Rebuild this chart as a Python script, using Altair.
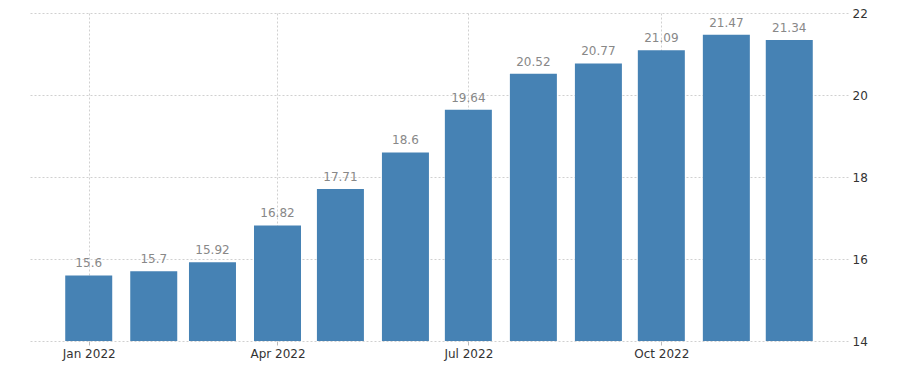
import altair as alt
import pandas as pd

months = ["2022-01-01T00:00:00", "2022-02-01T00:00:00", "2022-03-01T00:00:00",
          "2022-04-01T00:00:00", "2022-05-01T00:00:00", "2022-06-01T00:00:00",
          "2022-07-01T00:00:00", "2022-08-01T00:00:00", "2022-09-01T00:00:00",
          "2022-10-01T00:00:00", "2022-11-01T00:00:00", "2022-12-01T00:00:00"]
values = [15.6, 15.7, 15.92, 16.82, 17.71, 18.6, 19.64, 20.52, 20.77, 21.09, 21.47, 21.34]
labels = ["15.6", "15.7", "15.92", "16.82", "17.71", "18.6", "19.64", "20.52",
          "20.77", "21.09", "21.47", "21.34"]
y_ticks = [14, 16, 18, 20, 22]

df = pd.DataFrame({"date": months, "value": values, "label": labels})

font = "DejaVu Sans"

x_scale = alt.Scale(domain=[alt.DateTime(year=2021, month=12, date=4),
                            alt.DateTime(year=2022, month=12, date=29)],
                    padding=0)

x = alt.X(
    "date:T",
    scale=x_scale,
    axis=alt.Axis(
        title=None,
        values=[alt.DateTime(year=2022, month=1, date=1),
                alt.DateTime(year=2022, month=4, date=1),
                alt.DateTime(year=2022, month=7, date=1),
                alt.DateTime(year=2022, month=10, date=1)],
        format="%b %Y",
        grid=True, gridColor="#d0d0d0", gridDash=[2, 2], gridWidth=1,
        domain=False, ticks=True, tickSize=4, tickColor="#bbbbbb",
        labelFont=font, labelFontSize=12, labelColor="#333333", labelPadding=3,
    ),
)

y = alt.Y(
    "value:Q",
    scale=alt.Scale(domain=[14, 22], nice=False, zero=False),
    axis=alt.Axis(
        title=None, orient="right", values=y_ticks,
        grid=True, gridColor="#d0d0d0", gridDash=[2, 2], gridWidth=1,
        domain=False, ticks=False, labelPadding=4,
        labelFont=font, labelFontSize=12, labelColor="#333333",
    ),
)

base = alt.Chart(df)

bars = base.mark_bar(width=47, color="#4682b4", clip=True).encode(
    x=x, y=y, y2=alt.datum(14)
)

text = base.mark_text(
    baseline="bottom", dy=-5, font=font, fontSize=12, color="#888888"
).encode(x=alt.X("date:T", scale=x_scale), y="value:Q", text="label:N")

chart = (bars + text).properties(
    width=818, height=328,
    autosize=alt.AutoSizeParams(type="none"),
    padding={"left": 22, "top": 5, "right": 60, "bottom": 30},
).configure_view(stroke=None)

chart.save("out.html", embed_options={"renderer": "svg", "actions": False})
